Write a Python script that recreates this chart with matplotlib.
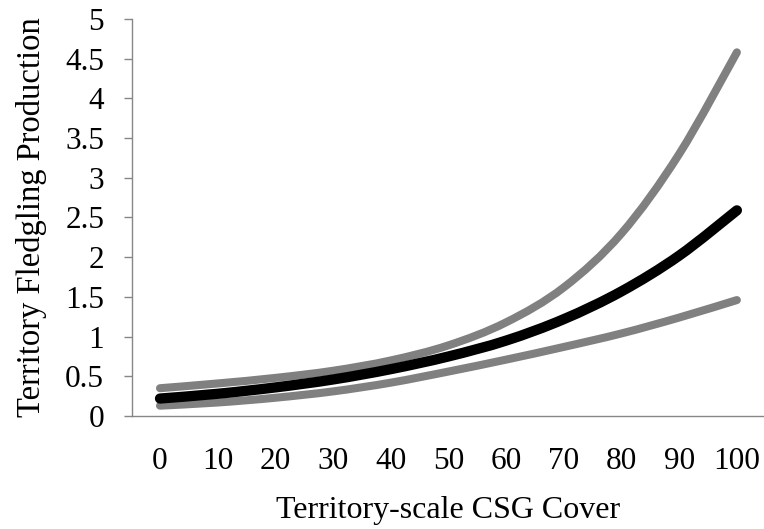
import matplotlib.pyplot as plt
from matplotlib.path import Path
from matplotlib.patches import PathPatch
import numpy as np

plt.rcParams['font.family'] = ['Liberation Serif', 'DejaVu Serif']

cover = [0, 10, 20, 30, 40, 50, 60, 70, 80, 90, 100]
fledglings = [0.22, 0.28, 0.36, 0.46, 0.59, 0.75, 0.95, 1.22, 1.57, 2.02, 2.59]
upper_ci = [0.35, 0.41, 0.48, 0.57, 0.70, 0.89, 1.18, 1.62, 2.30, 3.30, 4.58]
lower_ci = [0.13, 0.17, 0.23, 0.31, 0.42, 0.56, 0.71, 0.87, 1.04, 1.24, 1.46]
yticks = [0, 0.5, 1, 1.5, 2, 2.5, 3, 3.5, 4, 4.5, 5]


def smooth_line(ax, x, y, **kw):
    # spreadsheet-style smoothed line: cubic bezier through every point
    pts = np.column_stack([x, y]).astype(float)
    padded = np.vstack([pts[0], pts, pts[-1]])
    verts = [pts[0]]
    codes = [Path.MOVETO]
    for i in range(1, len(padded) - 2):
        p0, p1, p2, p3 = padded[i - 1], padded[i], padded[i + 1], padded[i + 2]
        c1 = p1 + (p2 - p0) / 6.0
        c2 = p2 - (p3 - p1) / 6.0
        verts += [c1, c2, p2]
        codes += [Path.CURVE4] * 3
    ax.add_patch(PathPatch(Path(verts, codes), fill=False, **kw))


fig = plt.figure(figsize=(7.64, 5.29), dpi=100)
ax = fig.add_axes([0.1728, 0.2136, 0.8272, 0.7505])

smooth_line(ax, cover, upper_ci, edgecolor='#808080', lw=5.8, capstyle='round')
smooth_line(ax, cover, lower_ci, edgecolor='#808080', lw=5.8, capstyle='round')
smooth_line(ax, cover, fledglings, edgecolor='black', lw=7.4, capstyle='round')

ax.set_xlim(-4.85, 104.7)
ax.set_ylim(0, 5)
ax.set_xticks(cover)
ax.set_xticklabels([str(c) for c in cover])
ax.set_yticks(yticks)
ax.set_yticklabels(['%g' % t for t in yticks])

for s in ['top', 'right']:
    ax.spines[s].set_visible(False)
for s in ['left', 'bottom']:
    ax.spines[s].set_color('#868686')
    ax.spines[s].set_linewidth(1.0)

ax.tick_params(axis='y', length=6, width=1.0, color='#868686', labelsize=22.5, pad=14)
ax.tick_params(axis='x', length=0, labelsize=22.5, pad=22)

ax.set_xlabel('Territory-scale CSG Cover', fontsize=23, labelpad=15)
ax.set_ylabel('Territory Fledgling Production', fontsize=23.5, labelpad=13)

fig.savefig('out.png', dpi=100)
plt.close()
